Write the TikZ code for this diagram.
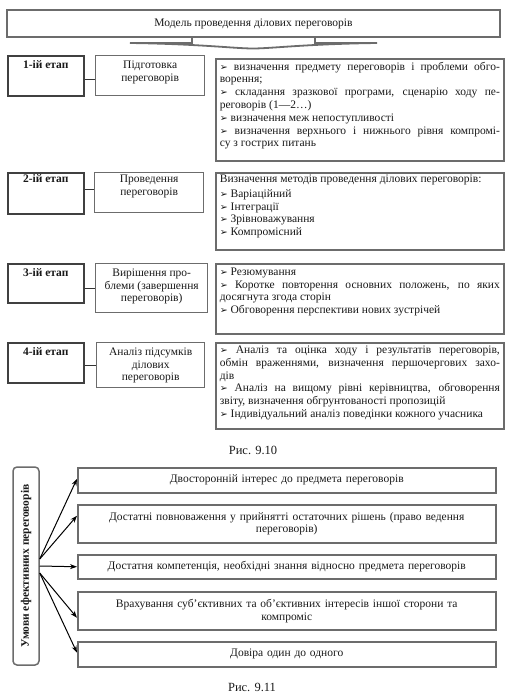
\documentclass[tikz,border=0pt]{standalone}
\usepackage{fontspec}
\setmainfont{Liberation Serif}
\newfontfamily\djv{DejaVu Sans}
\usetikzlibrary{arrows.meta,calc}
\newcommand\ar{{\djv\fontsize{9.5}{8}\selectfont ➢}\ }
\newcommand\tbx[4]{\parbox[t][#2][t]{#1}{\vspace*{#3}#4}}
\tolerance=9999 \hbadness=10000 \hfuzz=20pt
\begin{document}
\begin{tikzpicture}[x=1pt,y=-1pt,
  every node/.style={font=\fontsize{11.5}{12.8}\selectfont, text=black!90},
  base/.style={anchor=north west, inner xsep=4pt, inner ysep=3pt, fill=white},
  stagebox/.style={base, draw=black!75, line width=1.5pt, font=\fontsize{11.5}{12.8}\selectfont\bfseries},
  midbox/.style={base, draw=gray!85!black, line width=1.4pt},
  infobox/.style={base, draw=gray!85!black, line width=1.7pt},
  condbox/.style={draw=gray!85!black, line width=1.5pt, minimum width=418pt, anchor=north west, align=center, text width=410pt, inner ysep=1pt},
  vbox/.style={draw=gray!85!black, line width=1.5pt, rounded corners=4pt, rotate=90, minimum width=198pt, minimum height=26pt, inner sep=0pt, font=\fontsize{11.5}{12.8}\selectfont\bfseries},
  link/.style={draw=black!80, line width=1.2pt},
  brace/.style={draw=gray!85!black, line width=1.8pt},
  arr/.style={draw=black, line width=1pt, -{Stealth[length=7pt,width=5pt]}},
  captext/.style={font=\fontsize{12.5}{13}\selectfont}
]
\useasboundingbox (0,0) rectangle (512,696);

% top
\node[midbox, anchor=center, minimum width=493pt, minimum height=27pt, inner sep=0pt] (top) at (253.5,23.5) {Модель проведення ділових переговорів};
\draw[brace] (192,37) -- (192,43) -- (130,43) .. controls (200,44) and (235,48.5) .. (253,48.5) .. controls (271,48.5) and (306,44) .. (377,43) -- (315,43) -- (315,37);

% row 1
\node[stagebox] (s1) at (7,55) {\tbx{68pt}{34pt}{2pt}{\centering 1-ій етап\par}};
\node[midbox] (m1) at (95,55) {\tbx{101pt}{34pt}{2pt}{\centering Підготовка\\переговорів\par}};
\node[infobox] (r1) at (215,58) {\tbx{280pt}{96pt}{0pt}{%
\ar визначення предмету переговорів і проблеми обго-\linebreak ворення;\par
\ar складання зразкової програми, сценарію ходу пе-\linebreak реговорів (1—2…)\par
\ar визначення меж непоступливості\par
\ar визначення верхнього і нижнього рівня компромі-\linebreak су з гострих питань\par}};

% row 2
\node[stagebox] (s2) at (7,172) {\tbx{68pt}{35pt}{-1pt}{\centering 2-ій етап\par}};
\node[midbox] (m2) at (94,172) {\tbx{101pt}{34pt}{-1pt}{\centering Проведення\\переговорів\par}};
\node[infobox] (r2) at (215,172) {\tbx{280pt}{71pt}{-1pt}{%
Визначення методів проведення ділових переговорів:\par\vspace{2pt}
\ar Варіаційний\par
\ar Інтеграції\par
\ar Зрівноважування\par
\ar Компромісний\par}};

% row 3
\node[stagebox] (s3) at (7,263) {\tbx{68pt}{33pt}{2pt}{\centering 3-ій етап\par}};
\node[midbox] (m3) at (95,263) {\tbx{104pt}{43pt}{2pt}{\centering Вирішення про-\\блеми (завершення\\переговорів)\par}};
\node[infobox] (r3) at (215,263) {\tbx{280pt}{64pt}{1pt}{%
\ar Резюмування\par
\ar Коротке повторення основних положень, по яких\linebreak досягнута згода сторін\par
\ar Обговорення перспективи нових зустрічей\par}};

% row 4
\node[stagebox] (s4) at (7,342) {\tbx{68pt}{34pt}{2pt}{\centering 4-ій етап\par}};
\node[midbox] (m4) at (96,342) {\tbx{100pt}{39pt}{2pt}{\centering Аналіз підсумків\\ділових\\переговорів\par}};
\node[infobox] (r4) at (215,342) {\tbx{280pt}{80pt}{0pt}{%
\ar Аналіз та оцінка ходу і результатів переговорів,\linebreak обмін враженнями, визначення першочергових захо-\linebreak дів\par
\ar Аналіз на вищому рівні керівництва, обговорення\linebreak звіту, визначення обгрунтованості пропозицій\par
\ar Індивідуальний аналіз поведінки кожного учасника\par}};

% stage links
\foreach \i/\d in {1/-4pt,2/4pt,3/-5pt,4/-3pt}{
  \draw[link] ([yshift=\d]s\i.east) -- ([yshift=\d]s\i.east -| m\i.west);
}

\node[captext] (c910) at (253,450) {Рис. 9.10};

% bottom figure
\node[vbox] (v) at (26,566) {Умови ефективних переговорів};
\node[condbox, minimum height=25pt] (b1) at (77,467) {Двосторонній інтерес до предмета переговорів};
\node[condbox, minimum height=38pt] (b2) at (77,504) {Достатні повноваження у прийнятті остаточних рішень (право ведення\\переговорів)};
\node[condbox, minimum height=24pt] (b3) at (77,554) {Достатня компетенція, необхідні знання відносно предмета переговорів};
\node[condbox, minimum height=38pt] (b4) at (77,591) {Врахування суб’єктивних та об’єктивних інтересів іншої сторони та\\компроміс};
\node[condbox, minimum height=25pt] (b5) at (77,641) {Довіра один до одного};

\draw[arr] ([yshift=7pt]v.south) -- ([yshift=1.5pt]b1.west);
\draw[arr] ([yshift=7pt]v.south) -- ([yshift=8pt]b2.west);
\draw[arr] (v.south) -- (b3.west);
\draw[arr] ([yshift=-7pt]v.south) -- ([yshift=-7pt]b4.west);
\draw[arr] ([yshift=-7pt]v.south) -- ([yshift=1.5pt]b5.west);

\node[captext] (c911) at (252,687) {Рис. 9.11};
\end{tikzpicture}
\end{document}
